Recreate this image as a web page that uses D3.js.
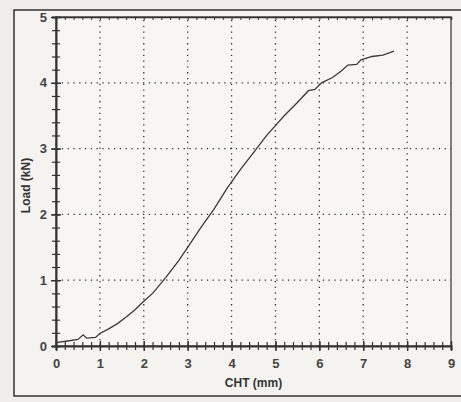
<!DOCTYPE html>
<html>
<head>
<meta charset="utf-8">
<script src="https://cdnjs.cloudflare.com/ajax/libs/d3/7.8.5/d3.min.js"></script>
<style>
  body { margin: 0; background: #eeedea; }
  svg { display: block; font-family: "Liberation Sans", Arial, sans-serif; }
</style>
</head>
<body>
<svg width="461" height="402"></svg>
<script>
// curve: CHT (mm) vs Load (kN)
var cht  = [0, 0.3, 0.5, 0.62, 0.7, 0.9, 1.0, 1.2, 1.4, 1.6, 1.8, 2.0, 2.2, 2.5, 2.8, 3.0, 3.3, 3.6, 3.9, 4.2, 4.5, 4.8, 5.0, 5.2, 5.5, 5.75, 5.9, 6.05, 6.3, 6.5, 6.65, 6.85, 6.95, 7.2, 7.45, 7.7];
var load = [0.05, 0.08, 0.1, 0.17, 0.12, 0.13, 0.19, 0.26, 0.34, 0.44, 0.55, 0.68, 0.8, 1.04, 1.3, 1.5, 1.8, 2.08, 2.4, 2.68, 2.94, 3.2, 3.35, 3.5, 3.7, 3.88, 3.9, 4.0, 4.08, 4.18, 4.27, 4.28, 4.35, 4.4, 4.42, 4.48];
var xTicks = [0, 1, 2, 3, 4, 5, 6, 7, 8, 9];
var yTicks = [0, 1, 2, 3, 4, 5];

var svg = d3.select('svg');
var ink = '#333';

var x = d3.scaleLinear().domain([0, 9]).range([56, 451]);
var y = d3.scaleLinear().domain([0, 5]).range([346, 17]);

// outer frame
svg.append('rect')
  .attr('x', 14).attr('y', 10).attr('width', 460).attr('height', 386)
  .attr('fill', '#f4f3f0').attr('stroke', ink).attr('stroke-width', 1.5);

// plot box
svg.append('rect')
  .attr('x', x(0)).attr('y', y(5))
  .attr('width', x(9) - x(0)).attr('height', y(0) - y(5))
  .attr('fill', '#f7f6f3').attr('stroke', ink).attr('stroke-width', 1.2);

// dotted grid
svg.append('g').selectAll('line')
  .data(xTicks.slice(1, -1))
  .enter().append('line')
  .attr('x1', function(d) { return x(d); }).attr('x2', function(d) { return x(d); })
  .attr('y1', y(0)).attr('y2', y(5))
  .attr('stroke', ink).attr('stroke-width', 1.3).attr('stroke-dasharray', '1.3,4.5');

svg.append('g').selectAll('line')
  .data(yTicks.slice(1, -1))
  .enter().append('line')
  .attr('y1', function(d) { return y(d); }).attr('y2', function(d) { return y(d); })
  .attr('x1', x(0)).attr('x2', x(9))
  .attr('stroke', ink).attr('stroke-width', 1.3).attr('stroke-dasharray', '1.3,4.5');

// axes
var xAxis = svg.append('g')
  .attr('transform', 'translate(0,' + y(0) + ')')
  .call(d3.axisBottom(x).tickValues(d3.range(0, 9.01, 0.2)).tickSize(4).tickFormat(''));
xAxis.selectAll('.tick line').attr('y1', -4).attr('stroke', ink).attr('stroke-width', 1.2);
xAxis.select('.domain').attr('stroke', ink).attr('stroke-width', 2);

var xLab = svg.append('g')
  .attr('transform', 'translate(0,' + y(0) + ')')
  .call(d3.axisBottom(x).tickValues(xTicks).tickSize(5).tickPadding(8).tickFormat(d3.format('d')));
xLab.select('.domain').remove();
xLab.selectAll('.tick line').attr('y1', -5).attr('stroke', ink).attr('stroke-width', 1.4);
xLab.selectAll('text').attr('font-size', 13).attr('font-weight', 'bold').attr('fill', '#444')
  .attr('font-family', '"Liberation Sans", Arial, sans-serif');

var yAxis = svg.append('g')
  .attr('transform', 'translate(' + x(0) + ',0)')
  .call(d3.axisLeft(y).tickValues(d3.range(0, 5.01, 0.2)).tickSize(4).tickFormat(''));
yAxis.selectAll('.tick line').attr('x1', 4).attr('stroke', ink).attr('stroke-width', 1.2);
yAxis.select('.domain').attr('stroke', ink).attr('stroke-width', 2);

var yLab = svg.append('g')
  .attr('transform', 'translate(' + x(0) + ',0)')
  .call(d3.axisLeft(y).tickValues(yTicks).tickSize(5).tickPadding(4).tickFormat(d3.format('d')));
yLab.select('.domain').remove();
yLab.selectAll('.tick line').attr('x1', 5).attr('stroke', ink).attr('stroke-width', 1.4);
yLab.selectAll('text').attr('font-size', 13).attr('font-weight', 'bold').attr('fill', '#444')
  .attr('font-family', '"Liberation Sans", Arial, sans-serif');

// minor ticks along the top edge
var topAxis = svg.append('g')
  .attr('transform', 'translate(0,' + y(5) + ')')
  .call(d3.axisBottom(x).tickValues(d3.range(0.2, 9, 0.2)).tickSize(3).tickFormat(''));
topAxis.select('.domain').attr('stroke', ink).attr('stroke-width', 1.5);
topAxis.selectAll('.tick line').attr('stroke', ink);

// curve
var pts = cht.map(function(d, i) { return [d, load[i]]; });
svg.append('path')
  .datum(pts)
  .attr('fill', 'none')
  .attr('stroke', '#3a3a3a')
  .attr('stroke-width', 1.3)
  .attr('d', d3.line()
    .x(function(d) { return x(d[0]); })
    .y(function(d) { return y(d[1]); }));

// axis titles
svg.append('text')
  .attr('x', (x(0) + x(9)) / 2).attr('y', 387)
  .attr('text-anchor', 'middle')
  .attr('font-size', 12).attr('font-weight', 'bold').attr('fill', '#333')
  .text('CHT (mm)');

svg.append('text')
  .attr('transform', 'translate(30,' + (y(2.5) + 4) + ') rotate(-90)')
  .attr('text-anchor', 'middle')
  .attr('font-size', 12).attr('font-weight', 'bold').attr('fill', '#333')
  .text('Load (kN)');
</script>
</body>
</html>
